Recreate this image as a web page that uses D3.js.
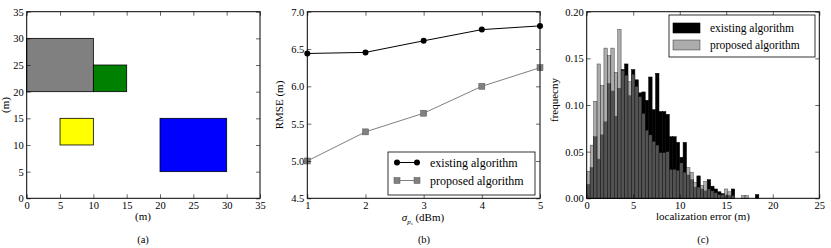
<!DOCTYPE html>
<html><head><meta charset="utf-8">
<script src="https://cdn.jsdelivr.net/npm/d3@7"></script>
<style>
body{margin:0;background:#fff}
text{font-family:"Liberation Serif","DejaVu Serif",serif;fill:#000}
</style></head>
<body><svg id="chart" width="831" height="248"></svg>
<script>
// (a) room layout
const roomX0 = [0, 10, 5, 20];
const roomX1 = [10, 15, 10, 30];
const roomY0 = [20, 20, 10, 5];
const roomY1 = [30, 25, 15, 15];
const roomColors = ["#808080", "#008000", "#ffff00", "#0000ff"];
const mapTicks = [0, 5, 10, 15, 20, 25, 30, 35];

// (b) RMSE vs sigma
const sigma = [1, 2, 3, 4, 5];
const rmseExisting = [6.44, 6.455, 6.61, 6.76, 6.81];
const rmseProposed = [5.0, 5.39, 5.64, 6.0, 6.25];
const rmseTicks = [4.5, 5.0, 5.5, 6.0, 6.5, 7.0];

// (c) error histograms, bins of 0.37 m from 0
const binWidth = 0.37;
const histExisting = [0.015,0.033,0.066,0.042,0.068,0.082,0.123,0.115,0.088,0.118,
  0.138,0.144,0.11,0.138,0.127,0.113,0.114,0.105,0.13,0.095,
  0.134,0.093,0.093,0.09,0.066,0.066,0.06,0.044,0.06,0.025,
  0.02,0.012,0.024,0.01,0.008,0.02,0.013,0.01,0.007,0.005,
  0.003,0.003,0.01,0,0,0,0,0,0,0.004];
const histProposed = [0.029,0.057,0.104,0.144,0.121,0.161,0.153,0.161,0.135,0.181,
  0.137,0.132,0.125,0.133,0.12,0.109,0.091,0.073,0.068,0.061,
  0.057,0.049,0.049,0.05,0.031,0.031,0.03,0.038,0.028,0.033,
  0.028,0.017,0.012,0.014,0.018,0.01,0.008,0.006,0.004,0.004,
  0.01,0.007,0.003,0,0,0.003,0.003,0,0,0];
const errTicks = [0, 5, 10, 15, 20, 25];
const freqTicks = [0, 0.05, 0.10, 0.15, 0.20];

const svg = d3.select("#chart");
const plotTop = 11.7, plotBottom = 198.3;

const frame = (g, x, y, xt, yt, xf, yf) => {
    const [x0, x1] = x.range();
    g.append("g").attr("transform", `translate(0,${plotBottom})`)
        .call(d3.axisBottom(x).tickValues(xt).tickFormat(xf).tickSizeInner(-4).tickSizeOuter(0).tickPadding(3));
    g.append("g").attr("transform", `translate(0,${plotTop})`)
        .call(d3.axisTop(x).tickValues(xt).tickFormat("").tickSizeInner(-4).tickSizeOuter(0));
    g.append("g").attr("transform", `translate(${x0},0)`)
        .call(d3.axisLeft(y).tickValues(yt).tickFormat(yf).tickSizeInner(-4).tickSizeOuter(0).tickPadding(3));
    g.append("g").attr("transform", `translate(${x1},0)`)
        .call(d3.axisRight(y).tickValues(yt).tickFormat("").tickSizeInner(-4).tickSizeOuter(0));
    g.selectAll(".domain").remove();
    g.selectAll(".tick text").style("font-family", '"Liberation Serif",serif').style("font-size", "10.5px");
    g.selectAll(".tick line").attr("stroke-width", 0.6);
    g.append("rect").attr("x", x0).attr("y", plotTop).attr("width", x1 - x0).attr("height", plotBottom - plotTop)
        .attr("fill", "none").attr("stroke", "#000").attr("stroke-width", 1);
};

const label = (t, x, y, rot, size = 11) => svg.append("text").attr("text-anchor", "middle").attr("font-size", size)
    .attr("transform", `translate(${x},${y})` + (rot ? " rotate(-90)" : "")).text(t);

// ---- (a)
{
    const x = d3.scaleLinear().domain([0, 35]).range([26.7, 260]);
    const y = d3.scaleLinear().domain([0, 35]).range([plotBottom, plotTop]);
    const g = svg.append("g");
    g.selectAll(".room").data(roomColors).enter().append("rect")
        .attr("x", (d, i) => x(roomX0[i])).attr("y", (d, i) => y(roomY1[i]))
        .attr("width", (d, i) => x(roomX1[i]) - x(roomX0[i]))
        .attr("height", (d, i) => y(roomY0[i]) - y(roomY1[i]))
        .attr("fill", d => d).attr("stroke", "#000").attr("stroke-width", 0.8);
    frame(g, x, y, mapTicks, mapTicks, d3.format("d"), d3.format("d"));
    label("(m)", 143, 220);
    label("(m)", 9, 105, true);
    label("(a)", 143, 243, false, 10.5);
}

// ---- (b)
{
    const x = d3.scaleLinear().domain([1, 5]).range([307.3, 540]);
    const y = d3.scaleLinear().domain([4.5, 7.0]).range([plotBottom, plotTop]);
    const g = svg.append("g");
    const line = d3.line().x((d, i) => x(sigma[i])).y(d => y(d));
    g.append("path").datum(rmseProposed).attr("d", line).attr("fill", "none").attr("stroke", "#808080").attr("stroke-width", 1);
    g.append("path").datum(rmseExisting).attr("d", line).attr("fill", "none").attr("stroke", "#000").attr("stroke-width", 1);
    g.selectAll(".sq").data(rmseProposed).enter().append("rect")
        .attr("x", (d, i) => x(sigma[i]) - 3).attr("y", d => y(d) - 3).attr("width", 6).attr("height", 6)
        .attr("fill", "#808080").attr("stroke", "#555").attr("stroke-width", 0.5);
    g.selectAll(".dot").data(rmseExisting).enter().append("circle")
        .attr("cx", (d, i) => x(sigma[i])).attr("cy", d => y(d)).attr("r", 3).attr("fill", "#000");
    frame(g, x, y, sigma, rmseTicks, d3.format("d"), d3.format(".1f"));
    // legend
    const lg = g.append("g");
    lg.append("rect").attr("x", 388).attr("y", 152).attr("width", 147).attr("height", 43)
        .attr("fill", "#fff").attr("stroke", "#000").attr("stroke-width", 0.8);
    [["existing algorithm", "#000", "c"], ["proposed algorithm", "#808080", "s"]].forEach(([t, c, m], i) => {
        const yy = 162.5 + i * 18;
        lg.append("line").attr("x1", 397).attr("x2", 417).attr("y1", yy).attr("y2", yy).attr("stroke", c);
        [397, 417].forEach(xx => {
            if (m === "c") lg.append("circle").attr("cx", xx).attr("cy", yy).attr("r", 3).attr("fill", "#000");
            else lg.append("rect").attr("x", xx - 3).attr("y", yy - 3).attr("width", 6).attr("height", 6)
                .attr("fill", "#808080").attr("stroke", "#555").attr("stroke-width", 0.5);
        });
        lg.append("text").attr("x", 430).attr("y", yy + 4).attr("font-size", 12).text(t);
    });
    const xl = label("", 423, 221);
    xl.append("tspan").attr("font-style", "italic").text("σ");
    xl.append("tspan").attr("font-size", 7).attr("font-style", "italic").attr("dy", 2.5).text("p");
    xl.append("tspan").attr("font-size", 5).attr("font-style", "italic").attr("dy", 1).text("s");
    xl.append("tspan").attr("dy", -3.5).text(" (dBm)");
    label("RMSE (m)", 283, 105, true);
    label("(b)", 424, 243, false, 10.5);
}

// ---- (c)
{
    const x = d3.scaleLinear().domain([0, 25]).range([586.7, 819.3]);
    const y = d3.scaleLinear().domain([0, 0.2]).range([plotBottom, plotTop]);
    const g = svg.append("g");
    const bars = (data, fill, op) => g.append("g").selectAll("rect").data(data).enter().append("rect")
        .attr("x", (d, i) => x(i * binWidth)).attr("width", x(binWidth) - x(0))
        .attr("y", d => y(d)).attr("height", d => y(0) - y(d))
        .attr("fill", fill).attr("fill-opacity", op)
        .attr("stroke", "#000").attr("stroke-opacity", op).attr("stroke-width", 0.5);
    bars(histExisting, "#000", 1);
    bars(histProposed, "#808080", 0.65);
    frame(g, x, y, errTicks, freqTicks, d3.format("d"), d3.format(".2f"));
    const lg = g.append("g");
    lg.append("rect").attr("x", 669).attr("y", 15).attr("width", 146).attr("height", 42)
        .attr("fill", "#fff").attr("stroke", "#000").attr("stroke-width", 0.8);
    [["existing algorithm", "#000", 1], ["proposed algorithm", "#808080", 0.65]].forEach(([t, c, op], i) => {
        const yy = 28 + i * 17;
        lg.append("rect").attr("x", 673).attr("y", yy - 5).attr("width", 27).attr("height", 10)
            .attr("fill", c).attr("fill-opacity", op).attr("stroke", "#000").attr("stroke-opacity", op).attr("stroke-width", 0.6);
        lg.append("text").attr("x", 710).attr("y", yy + 4).attr("font-size", 11.5).text(t);
    });
    label("localization error (m)", 703, 220);
    label("frequecny", 558, 100, true);
    label("(c)", 703, 243, false, 10.5);
}
</script></body></html>
